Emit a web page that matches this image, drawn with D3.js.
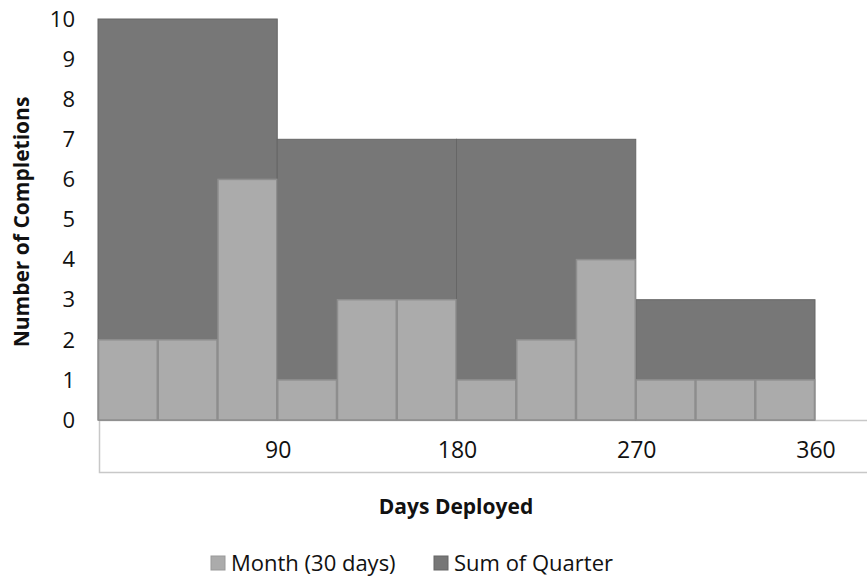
<!DOCTYPE html>
<html>
<head>
<meta charset="utf-8">
<script src="https://cdn.jsdelivr.net/npm/d3@7"></script>
<style>
  body { margin: 0; background: #fff; }
  text { font-family: "Open Sans", "Liberation Sans", sans-serif; fill: #111; }
</style>
</head>
<body>
<div id="chart"></div>
<script>
// monthly completions, 30-day bins
var monthValues = [2, 2, 6, 1, 3, 3, 1, 2, 4, 1, 1, 1]
// quarterly sums
var quarterValues = [10, 7, 7, 3]
var xTicks = [90, 180, 270, 360]
var yTicks = [0, 1, 2, 3, 4, 5, 6, 7, 8, 9, 10]
var seriesNames = ['Month (30 days)', 'Sum of Quarter']

var width = 867, height = 578
var lightFill = '#ababab', darkFill = '#777777'

var svg = d3.select('#chart').append('svg')
  .attr('width', width)
  .attr('height', height)

var x = d3.scaleLinear().domain([0, 360]).range([98, 815])
var y = d3.scaleLinear().domain([0, 10]).range([420, 19])

// x-axis box
svg.append('path')
  .attr('d', 'M867,420.5H99.5V472.5H867')
  .attr('fill', 'none')
  .attr('stroke', '#c8c8c8')
  .attr('stroke-width', 1.5)

// quarter bars behind
svg.selectAll('.quarter').data(quarterValues)
  .enter().append('rect')
    .classed('quarter', true)
    .attr('x', function(d, i) { return x(i * 90) })
    .attr('width', function(d, i) { return x((i + 1) * 90) - x(i * 90) })
    .attr('y', function(d) { return y(d) })
    .attr('height', function(d) { return y(0) - y(d) })
    .attr('fill', darkFill)
    .attr('stroke', '#666')
    .attr('stroke-width', 1)

// month bars in front
svg.selectAll('.month').data(monthValues)
  .enter().append('rect')
    .classed('month', true)
    .attr('x', function(d, i) { return x(i * 30) + 0.5 })
    .attr('width', function(d, i) { return x((i + 1) * 30) - x(i * 30) - 1 })
    .attr('y', function(d) { return y(d) })
    .attr('height', function(d) { return y(0) - y(d) })
    .attr('fill', lightFill)
    .attr('stroke', '#8e8e8e')
    .attr('stroke-width', 1.5)

// y tick labels
svg.selectAll('.ytick').data(yTicks)
  .enter().append('text')
    .attr('x', 75)
    .attr('y', function(d) { return y(d) })
    .attr('dy', '0.35em')
    .attr('text-anchor', 'end')
    .style('font-size', '22px')
    .text(function(d) { return d })

// x tick labels
svg.selectAll('.xtick').data(xTicks)
  .enter().append('text')
    .attr('x', function(d) { return x(d) + 1 })
    .attr('y', 450)
    .attr('dy', '0.35em')
    .attr('text-anchor', 'middle')
    .style('font-size', '23px')
    .text(function(d) { return d })

// axis titles
svg.append('text')
  .attr('transform', 'translate(22,222) rotate(-90)')
  .attr('dy', '0.35em')
  .attr('text-anchor', 'middle')
  .style('font-size', '21px')
  .style('font-weight', 'bold')
  .text('Number of Completions')

svg.append('text')
  .attr('x', 456)
  .attr('y', 507)
  .attr('dy', '0.35em')
  .attr('text-anchor', 'middle')
  .style('font-size', '21px')
  .style('font-weight', 'bold')
  .text('Days Deployed')

// legend
var legend = svg.selectAll('.legend').data(seriesNames)
  .enter().append('g')
    .attr('transform', function(d, i) { return 'translate(' + (i === 0 ? 211 : 434) + ',563)' })

legend.append('rect')
  .attr('x', 0).attr('y', -7)
  .attr('width', 14).attr('height', 14)
  .attr('fill', function(d, i) { return i === 0 ? lightFill : darkFill })
  .attr('stroke', function(d, i) { return i === 0 ? '#999' : '#666' })

legend.append('text')
  .attr('x', 20)
  .attr('dy', '0.35em')
  .style('font-size', '22px')
  .text(function(d) { return d })
</script>
</body>
</html>
